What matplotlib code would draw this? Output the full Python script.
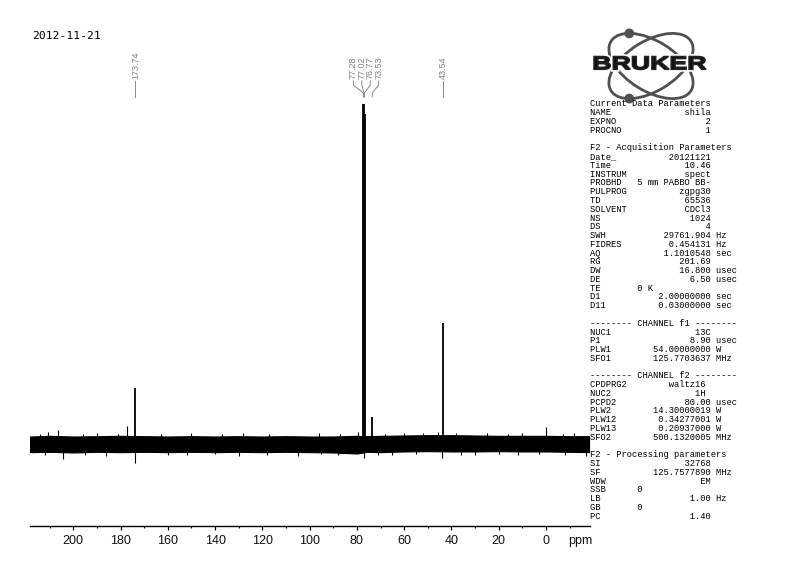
import matplotlib
matplotlib.use("Agg")
import matplotlib.pyplot as plt
from matplotlib.patches import Ellipse, Circle, PathPatch
from matplotlib.textpath import TextPath
from matplotlib.font_manager import FontProperties
from matplotlib.transforms import Affine2D
import numpy as np

# ---------------- data ----------------
date_label = "2012-11-21"

peak_ppm = [173.74, 77.28, 77.02, 76.77, 73.53, 43.54]
peak_height = [16.5, 100.0, 100.0, 97.0, 8.0, 35.6]
peak_labels = ["173.74", "77.28", "77.02", "76.77", "73.53", "43.54"]
peak_groups = [[0], [1, 2, 3, 4], [5]]

# unlabeled small signals and strongest noise excursions
spike_up_ppm = [214.0, 210.5, 206.5, 196.0, 190.0, 181.0, 177.3, 163.0, 150.0,
                137.0, 128.0, 117.0, 96.0, 87.0, 79.5, 68.0, 60.0, 52.0, 45.5,
                38.0, 25.0, 16.0, 10.0, 0.0, -7.0, -12.0]
spike_up_val = [3.0, 3.4, 4.2, 3.0, 3.1, 3.0, 5.3, 3.0, 3.1,
                3.0, 3.2, 3.0, 3.1, 3.0, 3.5, 3.0, 3.2, 3.1, 3.6,
                3.3, 3.1, 3.0, 3.2, 5.0, 3.0, 3.1]
spike_down_ppm = [212.0, 204.5, 195.0, 186.0, 173.74, 160.0, 152.0, 140.0, 130.0,
                  118.0, 105.0, 95.0, 88.0, 77.0, 71.0, 65.0, 55.0, 43.8, 36.0,
                  30.0, 20.0, 12.0, 3.0, -8.0, -17.0]
spike_down_val = [-3.2, -4.4, -3.2, -3.4, -5.5, -3.1, -3.2, -3.0, -3.4,
                  -3.1, -3.5, -3.0, -3.2, -4.0, -3.1, -3.3, -3.0, -4.0, -3.1,
                  -3.2, -3.0, -3.3, -3.0, -3.1, -3.6]

# envelope of the baseline noise band
noise_ppm = [218.3, 210, 200, 190, 180, 170, 160, 150, 140, 130, 120, 110,
             100, 90, 80, 78, 76, 70, 60, 50, 40, 30, 20, 10, 0, -10, -18.2]
noise_top = [2.2, 2.4, 2.2, 2.3, 2.4, 2.3, 2.2, 2.3, 2.2, 2.3, 2.2, 2.3,
             2.2, 2.2, 2.4, 2.3, 2.3, 2.4, 2.5, 2.6, 2.6, 2.5, 2.4, 2.4, 2.4, 2.3, 2.3]
noise_bot = [-2.4, -2.3, -2.5, -2.3, -2.4, -2.3, -2.4, -2.3, -2.4, -2.3, -2.4, -2.3,
             -2.4, -2.5, -2.8, -2.6, -2.3, -2.4, -2.2, -2.1, -2.2, -2.2, -2.1, -2.2, -2.2, -2.3, -2.4]

major_ticks = [200, 180, 160, 140, 120, 100, 80, 60, 40, 20, 0]
minor_ticks = [210, 190, 170, 150, 130, 110, 90, 70, 50, 30, 10, -10]
tick_labels = ["200", "180", "160", "140", "120", "100", "80", "60", "40", "20", "0"]
x_unit = "ppm"

current_title = "Current Data Parameters"
current_params = [("NAME", "shila", ""), ("EXPNO", "2", ""), ("PROCNO", "1", "")]
acq_title = "F2 - Acquisition Parameters"
acq_params = [("Date_", "20121121", ""), ("Time", "10.46", ""), ("INSTRUM", "spect", ""),
              ("PROBHD", "5 mm PABBO BB-", ""), ("PULPROG", "zgpg30", ""),
              ("TD", "65536", ""), ("SOLVENT", "CDCl3", ""), ("NS", "1024", ""),
              ("DS", "4", ""), ("SWH", "29761.904", "Hz"), ("FIDRES", "0.454131", "Hz"),
              ("AQ", "1.1010548", "sec"), ("RG", "201.69", ""), ("DW", "16.800", "usec"),
              ("DE", "6.50", "usec"), ("TE", "0 K", "<"), ("D1", "2.00000000", "sec"),
              ("D11", "0.03000000", "sec")]
ch1_title = "-------- CHANNEL f1 --------"
ch1_params = [("NUC1", "13C", ""), ("P1", "8.90", "usec"), ("PLW1", "54.00000000", "W"),
              ("SFO1", "125.7703637", "MHz")]
ch2_title = "-------- CHANNEL f2 --------"
ch2_params = [("CPDPRG2", "waltz16 ", ""), ("NUC2", "1H ", ""), ("PCPD2", "80.00", "usec"),
              ("PLW2", "14.30000019", "W"), ("PLW12", "0.34277001", "W"),
              ("PLW13", "0.20937000", "W"), ("SFO2", "500.1320005", "MHz")]
proc_title = "F2 - Processing parameters"
proc_params = [("SI", "32768", ""), ("SF", "125.7577890", "MHz"), ("WDW", "EM", ""),
               ("SSB", "0", "<"), ("LB", "1.00", "Hz"), ("GB", "0", "<"), ("PC", "1.40", "")]

# ---------------- figure ----------------
W, H = 805, 578
fig = plt.figure(figsize=(W / 100, H / 100), dpi=100)
fig.patch.set_facecolor("white")

ax_left, ax_right, ax_bot, ax_top = 30, 590, 525.6, 90
ax = fig.add_axes([ax_left / W, (H - ax_bot) / H, (ax_right - ax_left) / W, (ax_bot - ax_top) / H])
ax.set_xlim(218.3, -18.6)
ax.set_ylim(-24.0, 104.1)
ax.patch.set_alpha(0)
for s in ("top", "left", "right"):
    ax.spines[s].set_visible(False)
ax.spines["bottom"].set_linewidth(1.0)
ax.set_yticks([])
ax.set_xticks(major_ticks)
ax.set_xticklabels(tick_labels, fontfamily="Liberation Sans", fontsize=9, color="#111111")
ax.set_xticks(minor_ticks, minor=True)
ax.tick_params(axis="x", which="major", length=3, width=0.9, direction="out", pad=4)
ax.tick_params(axis="x", which="minor", length=1.6, width=0.9, direction="out")

ax.fill_between(noise_ppm, noise_bot, noise_top, color="black", lw=0.8, edgecolor="black")
ax.vlines(spike_up_ppm, 0, spike_up_val, color="black", lw=0.8)
ax.vlines(spike_down_ppm, spike_down_val, 0, color="black", lw=0.8)
ax.vlines(peak_ppm, 0, peak_height, color="black", lw=1.3)

# overlay in pixel coordinates (y downward) for annotations
ov = fig.add_axes([0, 0, 1, 1])
ov.set_xlim(0, W)
ov.set_ylim(H, 0)
ov.axis("off")

ov.text(32, 36, date_label, fontfamily="DejaVu Sans Mono", fontsize=8.2, va="center", ha="left")

# peak labels with leader lines
fig.canvas.draw()
label_gap = 8.4
for grp in peak_groups:
    pxs = [ax.transData.transform((peak_ppm[i], 0))[0] for i in grp]
    cx = np.mean(pxs)
    n = len(grp)
    for k, i in enumerate(grp):
        lx = cx + (k - (n - 1) / 2) * label_gap
        px = pxs[k]
        ov.text(lx, 79, peak_labels[i], rotation=90, ha="center", va="bottom",
                fontfamily="Liberation Sans", fontsize=6.4, color="#808080")
        if n == 1:
            ov.plot([lx, lx], [81, 97], color="#8a8a8a", lw=0.7)
        else:
            ov.plot([lx, lx, px, px], [81, 85, 93, 97], color="#8a8a8a", lw=0.7)

# parameter listing
def fmt(name, value, unit):
    if unit == "<":
        return name.ljust(9) + value
    line = name.ljust(max(len(name) + 1, 23 - len(value))) + value
    if unit:
        line += " " + unit
    return line

lines = [current_title] + [fmt(*p) for p in current_params] + [""]
lines += [acq_title] + [fmt(*p) for p in acq_params] + [""]
lines += [ch1_title] + [fmt(*p) for p in ch1_params] + [""]
lines += [ch2_title] + [fmt(*p) for p in ch2_params] + [""]
lines += [proc_title] + [fmt(*p) for p in proc_params]
y0, dy = 104.0, 8.77
for i, line in enumerate(lines):
    if line:
        ov.text(590, y0 + i * dy, line, fontfamily="Liberation Mono", fontsize=6.3,
                va="center", ha="left", color="black")

ov.text(580, 541, x_unit, fontfamily="Liberation Sans", fontsize=9, va="center", ha="center", color="#111111")

# Bruker logo
lcx, lcy, a, b, th = 651, 66, 47, 25, 31.7
for ang in (th, -th):
    ov.add_patch(Ellipse((lcx, lcy), 2 * a, 2 * b, angle=ang, fill=False, ec="#505050", lw=2.0))
t = np.deg2rad(th)
hh = np.sqrt(a ** 2 * np.sin(t) ** 2 + b ** 2 * np.cos(t) ** 2)
off = (a ** 2 - b ** 2) * np.sin(t) * np.cos(t) / hh
for sgn in (-1, 1):
    ov.add_patch(Circle((lcx - off, lcy + sgn * hh), 4.2, color="#505050"))
tp = TextPath((0, 0), "BRUKER", size=1, prop=FontProperties(family="Liberation Sans", weight="bold"))
bb = tp.get_extents()
sx = 112 / bb.width
sy = 13.0 / bb.height
tr = Affine2D().translate(-bb.x0, -bb.y0).scale(sx, -sy).translate(594, 69.5)
p2 = tr.transform_path(tp)
ov.add_patch(PathPatch(p2, fc="white", ec="white", lw=3.5))
ov.add_patch(PathPatch(p2, fc="#111111", ec="#222222", lw=1.1))

fig.savefig("out.png", dpi=100)
